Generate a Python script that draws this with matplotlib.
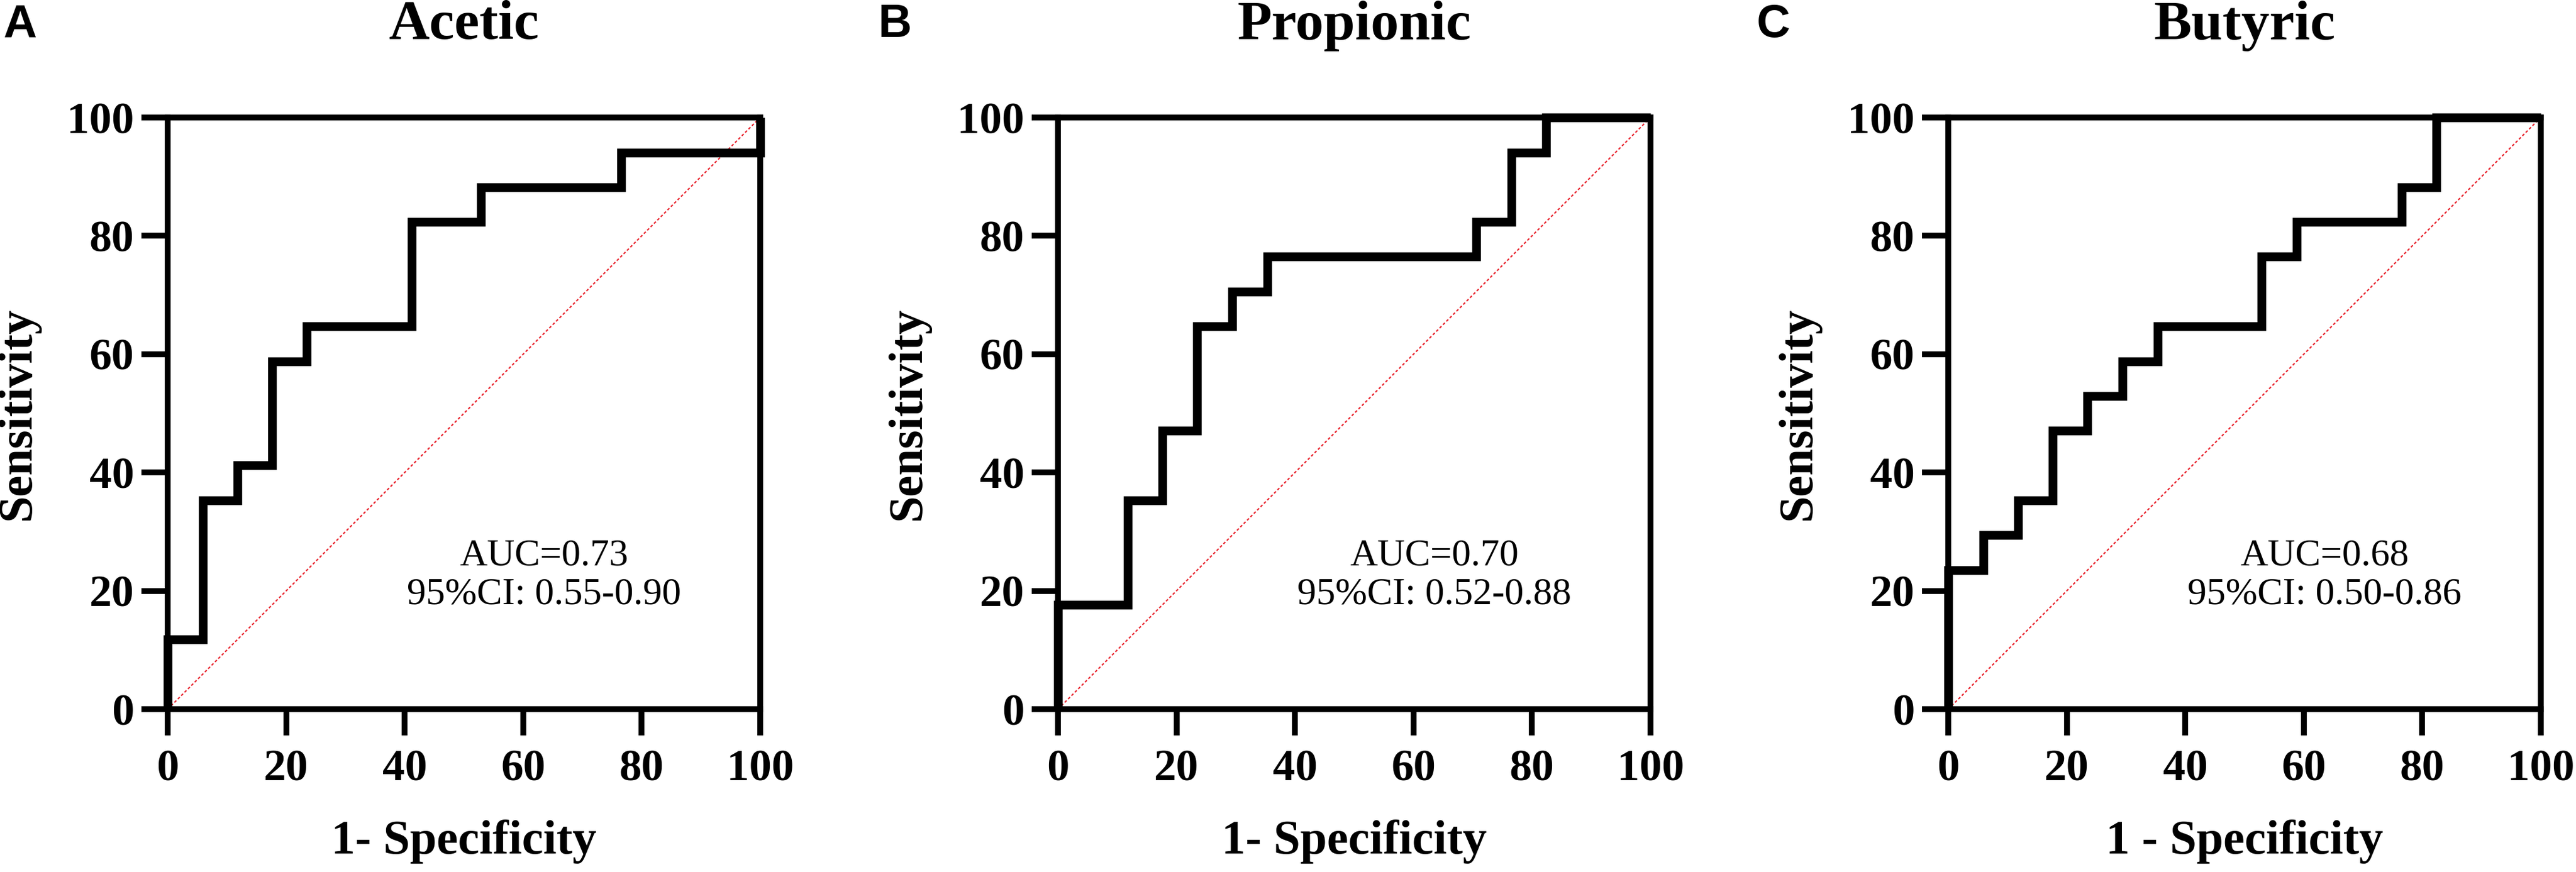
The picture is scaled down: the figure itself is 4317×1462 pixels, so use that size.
import matplotlib
matplotlib.use('Agg')
import matplotlib.pyplot as plt

# ROC operating points, in percent (1 - specificity, sensitivity)
acetic_fpr = [0, 0, 5.9, 11.8, 17.6, 23.5, 41.2, 52.9, 76.5, 100]
acetic_tpr = [0, 11.8, 35.3, 41.2, 58.8, 64.7, 82.4, 88.2, 94.1, 100]

propionic_fpr = [0, 0, 11.8, 17.6, 23.5, 29.4, 35.3, 70.6, 76.5, 82.4, 100]
propionic_tpr = [0, 17.6, 35.3, 47.1, 64.7, 70.6, 76.5, 82.4, 94.1, 100, 100]

butyric_fpr = [0, 0, 5.9, 11.8, 17.6, 23.5, 29.4, 35.3, 52.9, 58.8, 76.5, 82.4, 100]
butyric_tpr = [0, 23.5, 29.4, 35.3, 47.1, 52.9, 58.8, 64.7, 76.5, 82.4, 88.2, 100, 100]

titles = ['Acetic', 'Propionic', 'Butyric']
letters = ['A', 'B', 'C']
xlabels = ['1- Specificity', '1- Specificity', '1 - Specificity']
auc_texts = ['AUC=0.73\n95%CI: 0.55-0.90',
             'AUC=0.70\n95%CI: 0.52-0.88',
             'AUC=0.68\n95%CI: 0.50-0.86']
ticks = [0, 20, 40, 60, 80, 100]

curves = [(acetic_fpr, acetic_tpr),
          (propionic_fpr, propionic_tpr),
          (butyric_fpr, butyric_tpr)]

W, H = 4317, 1462
fig = plt.figure(figsize=(W / 100, H / 100), dpi=100)

serif = 'Liberation Serif'
lefts = [281, 1773, 3265]   # pixel positions of the left spines
ax_w, ax_h = 993, 992
ax_bottom = 1189

for i in range(3):
    ax = fig.add_axes([lefts[i] / W, 1 - ax_bottom / H, ax_w / W, ax_h / H])
    fpr, tpr = curves[i]

    ax.plot([0, 100], [0, 100], color='#e8202a', lw=1.6,
            linestyle=(0, (2, 1.6)), zorder=2, clip_on=False)
    ax.plot(fpr, tpr, color='black', lw=10.5, drawstyle='steps-post',
            solid_joinstyle='miter', solid_capstyle='butt',
            zorder=3, clip_on=False)

    ax.set_xlim(0, 100)
    ax.set_ylim(0, 100)
    ax.set_xticks(ticks)
    ax.set_yticks(ticks)
    for s in ax.spines.values():
        s.set_linewidth(7)
    ax.tick_params(direction='out', length=31.5, width=7, labelsize=54)
    ax.tick_params(axis='x', pad=17)
    ax.tick_params(axis='y', pad=9)
    for lab in ax.get_xticklabels() + ax.get_yticklabels():
        lab.set_fontfamily(serif)
        lab.set_fontweight('bold')

    ax.set_xlabel(xlabels[i], fontsize=58, fontweight='bold',
                  fontfamily=serif, labelpad=36)
    ax.set_ylabel('Sensitivity', fontsize=58, fontweight='bold',
                  fontfamily=serif, labelpad=33)

    ax.text(63.5, 22.6, auc_texts[i], ha='center', va='center',
            fontsize=46, fontfamily=serif, linespacing=1.15)

    cx = (lefts[i] + ax_w / 2) / W
    fig.text(cx, 1 - 43 / H, titles[i], ha='center', va='center',
             fontsize=68, fontweight='bold', fontfamily=serif)

letter_x = [5, 1472, 2944]
for i in range(3):
    fig.text(letter_x[i] / W, 1 - 5 / H, letters[i], ha='left', va='top',
             fontsize=56, fontweight='bold', fontfamily='Liberation Sans')

fig.savefig('out.png', dpi=100, facecolor='white')
